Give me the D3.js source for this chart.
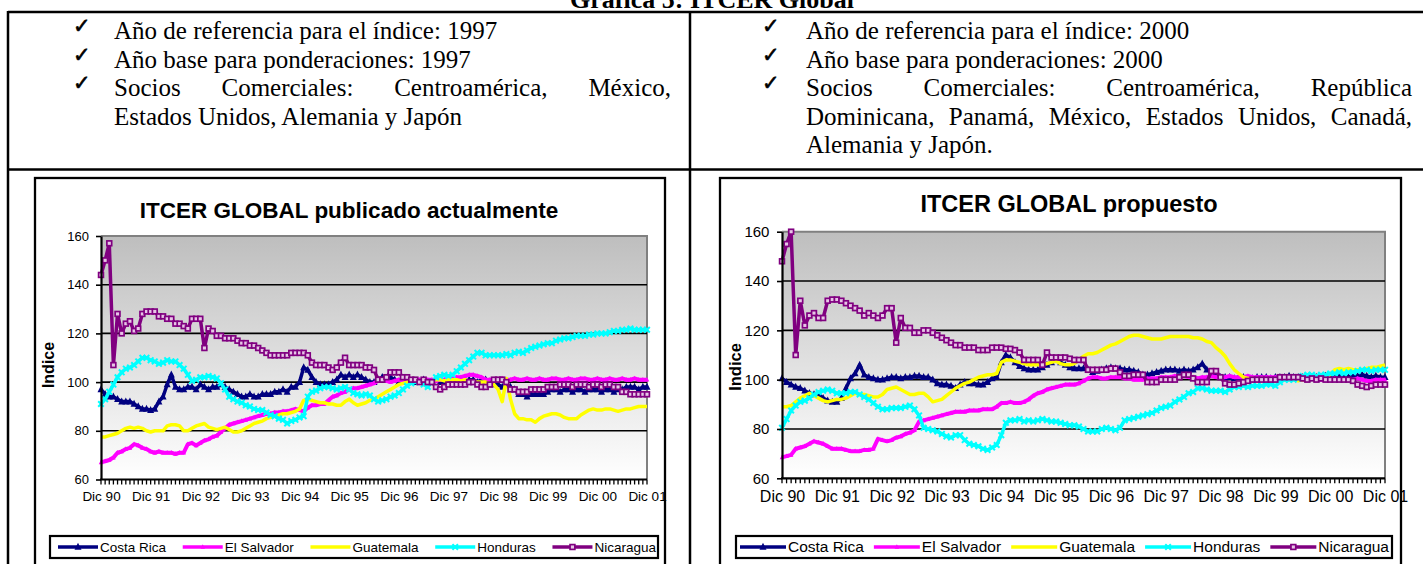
<!DOCTYPE html>
<html><head><meta charset="utf-8">
<script src="https://cdn.jsdelivr.net/npm/d3@7"></script>
<style>body{margin:0;background:#fff}svg{display:block}</style>
</head><body>
<svg id="c" width="1423" height="564"></svg>
<script>
// ---------------- DATA ----------------
const docTitle = "Gráfica 5: ITCER Global";
const leftNotes = ["Año de referencia para el índice: 1997", "Año base para ponderaciones: 1997",
  "Socios Comerciales: Centroamérica, México,", "Estados Unidos, Alemania y Japón"];
const rightNotes = ["Año de referencia para el índice: 2000", "Año base para ponderaciones: 2000",
  "Socios Comerciales: Centroamérica, República", "Dominicana, Panamá, México, Estados Unidos, Canadá,", "Alemania y Japón."];
const tickLabels = ["Dic 90","Dic 91","Dic 92","Dic 93","Dic 94","Dic 95","Dic 96","Dic 97","Dic 98","Dic 99","Dic 00","Dic 01"];
const monthNames = ["Dic","Ene","Feb","Mar","Abr","May","Jun","Jul","Ago","Sep","Oct","Nov"];
const categories = [];
for (let i = 0; i <= 132; i++) {
  const yr = i % 12 === 0 ? 90 + i / 12 : 91 + Math.floor(i / 12);
  categories.push(monthNames[i % 12] + " " + String(yr % 100).padStart(2, "0"));
}
const yTicks = [60, 80, 100, 120, 140, 160];
const seriesNames = ["Costa Rica", "El Salvador", "Guatemala", "Honduras", "Nicaragua"];

// ITCER global publicado actualmente
const pubCostaRica = [
97,95,94,94,93,92,92,92,91,90,89,89,
88.5,89,92,94,99,103,98,97,97,98,98,97,
99,98,97,98,98,99,98,97,96,95,94,94,
95,94,94,95,95,95,96,96,97,96,98,98,
100,106,105,102,100,99,99,99,100,101,103,102,
103,102,103,102,101,100,100,101,102,101,102,101,
100,100,101,100,100,100,101,100,100,101,100,100,
100,100,101,101,100,101,101,100,101,101,99,99,
99,98,99,98,97,95,95,94,95,95,95,95,
96,97,97,96,97,97,96,97,97,96,97,97,
97,96,97,97,96,97,97,98,98,98,97,98,
98];
const pubElSalvador = [
67,67.5,68,69,71,71.5,72.5,73,74.5,74,73,72.5,
71.5,71,71.5,71,71,71,70.5,71,71,74.5,75,74,
75,76,76.5,77.5,78,79.5,81,82.5,83,83.5,84,84.5,
85,85.5,86,86.5,87,87,87.5,87.5,88,88,88.5,89,
88.5,88,89.5,90.5,90.5,91,91,92.5,94,94.5,95.5,96,
97,97.5,97.5,98,98.5,99,99.5,100.5,101,100.5,100,100.5,
101,100.5,101,100.5,100.5,101,100.5,101,101,100.5,101,101,
101.5,101.5,102,102,102.5,103,103,102.5,102,101,101,100.5,
101,101.5,101,101,101.5,101,101,101.5,101,101,101.5,101,
101,101.5,101.5,101,101,101.5,101,101,101.5,101.5,101,101,
101.5,101,101,101.5,101,101,101.5,101,101,101.5,101,101,
101];
const pubGuatemala = [
77.5,77.5,78,78.5,79,80,81,81.5,81,81.5,81,80,
79.5,80,80,80,82,82.5,82.5,82,80,80,81,82,
82.5,83,81.5,81,80.5,81,81.5,80.5,79.5,79.5,80,81,
82,83,83.5,84,85,85.5,86,86.5,87,87,87.5,88,
89,92.5,93,92.5,92,91.5,91.5,91,91,90.5,90.5,92,
93,91.5,90.5,91,91.5,92.5,93,94,95,96,97,98,
99,99.5,100,100.5,100.5,100.5,101,100.5,100.5,101,101,100.5,
101,101,101,100.5,101,100.5,100.5,100,100,100,99.5,99,
97,92,101.5,93,87,85,85,84.5,84.5,83.5,85,86,
86.5,87,87,86.5,85.5,85,85,85,86.5,87.5,88.5,89,
88.5,88.5,89,89,88.5,88,88.5,89,89,89.5,90,90,
90];
const pubHonduras = [
91,93,96,99,102,104,105.5,106,107,108.5,110,110,
109,108.5,107.5,108,109,108.5,108.5,107,105.5,103,100.5,101,
102,102,102.5,102,101.5,99.5,97,94,93,92,91.5,90.5,
90,89,88.5,88.5,87.5,86.5,86,85,84.5,83,84,84.5,
85.5,86,94,96,96.5,97.5,98,98,97.5,97,97.5,98,
97,95.5,95,94.5,95,94.5,93,92,92.5,93,94,94.5,
95.5,97,98.5,99.5,100,100,99,98,100,102,102.5,103,
102.5,103,104.5,106,107.5,109,110.5,112,112,111,111,111,
111,111,111.5,111,112,112.5,112,113,114,114.5,115,115.5,
116,116,117,117.5,118,118,118.5,119,119,119,119.5,119.5,
120,120,120,120.5,121,121,121.5,121.5,122,121.5,121.5,121.5,
121.5];
const pubNicaragua = [
144,150,157,107,128,120,124,125,121,122,128,129,
129,129,127,127,126,126,124,124,123,122,126,126,
126,114,122,121,119,119,118,118,118,117,116,116,
115,115,114,113,112,111,111,111,111,111,112,112,
112,112,111,108,107,107,107,106,105,106,108,110,
107,107,107,107,106,106,105,101,101,102,104,104,
104,102,102,101,101,100,101,100,100,98,97,98,
99,99,99,99,99,100,100,99,98,98,99,101,
101,101,100,97,97,96,96,96,97,97,97,97,
98,98,98,99,99,99,98,99,99,99,98,99,
99,98,99,99,98,98,96,96,95,95,95,95,
95];

// ITCER global propuesto
const propCostaRica = [
100.5,99,98,97,96.5,95.5,94.5,94,94,92.5,91.5,91,
91,92.5,96.5,100.5,102.5,106,102,101,100.5,100,100,100.5,
101,101,100.5,101,101,101.5,101.5,101,101,100,98.5,98,
98,97.5,96.5,98,99,98.5,98.5,98,98,99,100.5,101,
107,110,109,107,105.5,104.5,104,104,104,105,106,107,
108,107,106,105,104.5,104.5,104.5,104,103,103.5,104,104.5,
105,104.5,104.5,104,104,103.5,103,102,102,102.5,103,103.5,
104,104,104,103.5,104,103.5,104,105,106.5,104,103,102,
101,101,101,100.5,101,101,100.5,100.5,101,101,101,100.5,
101,101,101,101.5,101,101,101,100.5,101,101,101,101.5,
101.5,101,101.5,101.5,101,101.5,101.5,102,101.5,101,101.5,101,
101];
const propElSalvador = [
68.5,69,69.5,72,72.5,73,74,75,74.5,74,73,72,
72,72,71.5,71,71,71,71.5,71.5,72,76,75.5,75,
75.5,76.5,77,78,78.5,79.5,83,83.5,84,84.5,85,85.5,
86,86.5,87,87,87,87.5,87.5,87.5,88,88,88,89,
90.5,90.5,91,90.5,90.5,91,92,93.5,94.5,95,96,96.5,
97,97.5,98,98,98,98.5,99.5,100.5,101,101,100.5,100.5,
101,101,101,100.5,100.5,100,100,100,100.5,100.5,100.5,101,
101,101,101.5,101,101.5,101,101,100.5,101,101,101.5,101,
101,101,101.5,101,101,101,101.5,101,101,101,101,101,
101,101,100.5,100.5,100.5,100,100,100,100.5,100,100,100,
100,100.5,100,100,100,100,100.5,100,99.5,99.5,100,100,
100];
const propGuatemala = [
89,89,89.5,91,92.5,93.5,94.5,93.5,92.5,91.5,91,91.5,
92,92,92.5,93.5,94.5,94,94,93.5,93,93,94,96,
96.5,97,96,95,94,94,94.5,94.5,93,91,91.5,92,
93.5,95,96.5,97.5,98.5,99,100,101,101.5,102,102,102.5,
107,108,108,107.5,107,106.5,106,106,106,106.5,106.5,107,
107.5,106.5,106,106,106.5,108,109.5,110.5,110.5,111,112,113,
114,114.5,115.5,116.5,117.5,118,118,117.5,117,116.5,116.5,116.5,
117,117.5,117.5,117.5,117.5,117.5,117,117,116.5,115.5,115,113,
111.5,109.5,106.5,104,102.5,101,100.5,100.5,100,100.5,100,100,
99.5,100,100,100,100,99.5,100,100,100.5,100.5,101,101,
102,104,104.5,104,104.5,104,104,104,104.5,105,105,105.5,
106];
const propHonduras = [
80.5,84,87.5,89.5,91,91.5,92.5,94,95,95.5,96,95.5,
94.5,94.5,94.5,95,95,94,93,92,90.5,89,88,88,
88.5,88.5,88.5,89,89.5,88,85.5,80.5,80,79.5,79,78,
77,76.5,77.5,77.5,75.5,74,73.5,73,72,71.5,72.5,73.5,
77.5,82.5,83.5,83.5,84,83,83.5,83,83.5,84,83.5,83,
83,82.5,82,81.5,81.5,81,80,79,79,79,80,80.5,
80,79.5,80.5,83.5,84,84.5,85,85.5,86,86.5,87.5,88.5,
89,89.5,91,92,93,94.5,95,96.5,96.5,96,95.5,95.5,
95.5,95,96,97,97,97.5,97,97.5,97.5,97.5,98,98,
97.5,99,100,100,100,100.5,101.5,102,102,101.5,102,102,
102.5,102.5,103,102.5,103,103,103.5,104,104,103.5,104,104,
104];
const propNicaragua = [
148,155,160,110,132,122,126,127,125,125,132,132.5,
132.5,132,131,130,129,128,126,127,126,125,126,129,
129,115,125,121,121,119,119,120,120,119,118,117,
116,115,114,114,113,113,113,112,112,112,113,113,
113,112.5,112.5,112,111,108,108,108,108,106,111,109,
109,109,109,108.5,108,108,108,104,104,104,104,104,
104.5,104.5,103,101.5,101.5,102,102,102,99,99,99,100,
100,100,100,101,102,102,100.5,99,99,99,103.5,103.5,
101,98.5,98,98,98.5,99,99.5,100,100,100,100,100,
100,101,101,101,101,101,100.5,100,100.5,100,100.5,100,
100,100,100,100,100,99.5,98,97.5,97,97.5,98,98,
98];

// ---------------- DRAWING ----------------
const SANS = "'Liberation Sans', Arial, sans-serif";
const SERIF = "'Liberation Serif', 'Times New Roman', serif";
const svg = d3.select("#c");
const defs = svg.append("defs");
const grad = defs.append("linearGradient").attr("id", "bg").attr("x1", 0).attr("y1", 0).attr("x2", 0).attr("y2", 1);
grad.append("stop").attr("offset", "0%").attr("stop-color", "#BEBEBE");
grad.append("stop").attr("offset", "100%").attr("stop-color", "#FFFFFF");

// document title (top partly cut, as in the source page)
svg.append("text").attr("x", 712).attr("y", 7.5).attr("text-anchor", "middle")
  .attr("font-family", SERIF).attr("font-weight", "bold").attr("font-size", 26).text(docTitle);

// table lines
const tbl = svg.append("g").attr("stroke", "#000").attr("fill", "none");
tbl.append("line").attr("x1", 8).attr("x2", 1423).attr("y1", 12).attr("y2", 12).attr("stroke-width", 2.5);
tbl.append("line").attr("x1", 8).attr("x2", 1423).attr("y1", 169.5).attr("y2", 169.5).attr("stroke-width", 2.5);
tbl.append("line").attr("x1", 8).attr("x2", 8).attr("y1", 11).attr("y2", 564).attr("stroke-width", 2.5);
tbl.append("line").attr("x1", 690).attr("x2", 690).attr("y1", 11).attr("y2", 564).attr("stroke-width", 2.5);

const BODY = 25;
const baselines = [39, 67.6, 96.2, 124.8, 153.4];
function check(x, y) {
  svg.append("text").attr("x", x).attr("y", y - 6).attr("font-family", "'DejaVu Sans', sans-serif")
    .attr("font-size", 21).attr("stroke", "#000").attr("stroke-width", 0.6).text("✓");
}
function plain(x, y, s) {
  svg.append("text").attr("x", x).attr("y", y).attr("font-family", SERIF).attr("font-size", BODY).text(s);
}
function justified(x0, x1, y, s) {
  const words = s.split(" ");
  const nodes = words.map(w => svg.append("text").attr("y", y).attr("font-family", SERIF).attr("font-size", BODY).text(w));
  const widths = nodes.map(n => n.node().getComputedTextLength());
  const gap = (x1 - x0 - d3.sum(widths)) / (words.length - 1);
  let cx = x0;
  nodes.forEach((n, i) => { n.attr("x", cx); cx += widths[i] + gap; });
}
// left column
check(73, baselines[0]); plain(114, baselines[0], leftNotes[0]);
check(73, baselines[1]); plain(114, baselines[1], leftNotes[1]);
check(73, baselines[2]); justified(114, 671, baselines[2], leftNotes[2]);
plain(114, baselines[3], leftNotes[3]);
// right column
check(762, baselines[0]); plain(806, baselines[0], rightNotes[0]);
check(762, baselines[1]); plain(806, baselines[1], rightNotes[1]);
check(762, baselines[2]); justified(806, 1412, baselines[2], rightNotes[2]);
justified(806, 1412, baselines[3], rightNotes[3]);
plain(806, baselines[4], rightNotes[4]);

const styles = [
  { color: "#000080", width: 3.5, marker: "tri", size: 7 },
  { color: "#FF00FF", width: 4, marker: "tri", size: 4.5 },
  { color: "#FFFF00", width: 3.5, marker: "none", size: 0 },
  { color: "#00FFFF", width: 3.5, marker: "x", size: 2.8 },
  { color: "#800080", width: 3.5, marker: "sq", size: 4.8 }
];

function marker(g, st, cx, cy) {
  if (st.marker === "tri") {
    const s = st.size;
    g.append("path").attr("d", `M${cx},${cy - s * 0.6}L${cx + s / 2},${cy + s * 0.4}L${cx - s / 2},${cy + s * 0.4}Z`).attr("fill", st.color);
  } else if (st.marker === "x") {
    const s = st.size;
    g.append("path").attr("d", `M${cx - s},${cy - s}L${cx + s},${cy + s}M${cx - s},${cy + s}L${cx + s},${cy - s}`)
      .attr("stroke", st.color).attr("stroke-width", 2).attr("fill", "none");
  } else if (st.marker === "sq") {
    const s = st.size;
    g.append("rect").attr("x", cx - s / 2).attr("y", cy - s / 2).attr("width", s).attr("height", s)
      .attr("fill", "#E6C6E6").attr("stroke", st.color).attr("stroke-width", 1.7);
  }
}

function drawChart(cfg, series) {
  const g = svg.append("g");
  g.append("rect").attr("x", cfg.fx).attr("y", cfg.fy).attr("width", cfg.fw).attr("height", cfg.fh)
    .attr("fill", "#fff").attr("stroke", "#000").attr("stroke-width", 2.3);
  const x = d3.scalePoint().domain(categories).range([cfg.px0, cfg.px1]);
  const y = d3.scaleLinear().domain([60, 160]).range([cfg.py1, cfg.py0]);

  g.append("rect").attr("x", cfg.px0).attr("y", y(160)).attr("width", cfg.px1 - cfg.px0)
    .attr("height", y(60) - y(160)).attr("fill", "url(#bg)");
  g.append("path").attr("d", `M${cfg.px0},${y(160)}H${cfg.px1}V${y(60)}`)
    .attr("stroke", "#808080").attr("stroke-width", 2).attr("fill", "none");
  yTicks.filter(v => v > 60 && v < 160).forEach(v => {
    g.append("line").attr("x1", cfg.px0).attr("x2", cfg.px1).attr("y1", y(v)).attr("y2", y(v))
      .attr("stroke", "#000").attr("stroke-width", 1.6);
  });
  const tg = g.append("g").attr("stroke", "#000").attr("stroke-width", 1.3);
  categories.forEach(c => {
    tg.append("line").attr("x1", x(c)).attr("x2", x(c)).attr("y1", y(60)).attr("y2", y(60) + 5);
  });

  series.forEach((vals, si) => {
    const st = styles[si];
    const sg = g.append("g");
    const line = d3.line().x((d, i) => x(categories[i])).y(d => y(d));
    sg.append("path").datum(vals).attr("d", line).attr("fill", "none")
      .attr("stroke", st.color).attr("stroke-width", st.width).attr("stroke-linejoin", "round");
    vals.forEach((v, i) => marker(sg, st, x(categories[i]), y(v)));
  });

  const ya = g.append("g").attr("transform", `translate(${cfg.px0},0)`)
    .call(d3.axisLeft(y).tickValues(yTicks).tickSize(5).tickSizeOuter(0).tickPadding(cfg.yPad));
  ya.select(".domain").attr("stroke", "#000").attr("stroke-width", 2.2);
  ya.selectAll(".tick line").attr("stroke", "#000").attr("stroke-width", 1.6);
  ya.selectAll("text").attr("font-family", SANS).attr("font-size", cfg.yTickSize).attr("fill", "#000");

  g.append("line").attr("x1", cfg.px0 - 1).attr("x2", cfg.px1).attr("y1", y(60)).attr("y2", y(60))
    .attr("stroke", "#000").attr("stroke-width", 2.2);
  const xa = g.append("g").attr("transform", `translate(0,${y(60)})`)
    .call(d3.axisBottom(x).tickValues(categories.filter((c, i) => i % 12 === 0))
      .tickFormat((c, i) => tickLabels[i]).tickSize(0).tickPadding(cfg.xPad));
  xa.select(".domain").remove();
  xa.selectAll("text").attr("font-family", SANS).attr("font-size", cfg.xTickSize).attr("fill", "#000");

  g.append("text").attr("x", cfg.titleX).attr("y", cfg.titleY).attr("text-anchor", "middle")
    .attr("font-family", SANS).attr("font-weight", "bold").attr("font-size", cfg.titleSize).text(cfg.title);
  g.append("text").attr("transform", `translate(${cfg.yLabelX},${cfg.yLabelY}) rotate(-90)`)
    .attr("text-anchor", "middle").attr("font-family", SANS).attr("font-weight", "bold")
    .attr("font-size", cfg.yLabelSize).text("Indice");

  const L = cfg.legend;
  const lg = g.append("g");
  lg.append("rect").attr("x", L.x).attr("y", L.y).attr("width", L.w).attr("height", L.h)
    .attr("fill", "#fff").attr("stroke", "#000").attr("stroke-width", 2.2);
  const my = L.y + L.h / 2;
  const texts = seriesNames.map(n => lg.append("text").attr("y", my + L.font * 0.35)
    .attr("font-family", SANS).attr("font-size", L.font).text(n));
  const tw = texts.map(t => t.node().getComputedTextLength());
  const total = d3.sum(tw) + seriesNames.length * (L.lineLen + 2);
  const gap = (L.w - L.padL - L.padR - total) / (seriesNames.length - 1);
  let ax = L.x + L.padL;
  seriesNames.forEach((n, i) => {
    const st = styles[i];
    lg.append("line").attr("x1", ax).attr("x2", ax + L.lineLen).attr("y1", my).attr("y2", my)
      .attr("stroke", st.color).attr("stroke-width", 3.5);
    marker(lg, st, ax + L.lineLen / 2, my);
    texts[i].attr("x", ax + L.lineLen + 2);
    ax += L.lineLen + 2 + tw[i] + gap;
  });
}

drawChart({
  fx: 35, fy: 178, fw: 630, fh: 420, px0: 101, px1: 647, py0: 236, py1: 479.5,
  title: "ITCER GLOBAL publicado actualmente", titleSize: 22.5, titleX: 349, titleY: 218,
  yLabelX: 54, yLabelY: 365, yLabelSize: 16, yTickSize: 13, xTickSize: 13.5, yPad: 7, xPad: 11.5,
  legend: { x: 50, y: 536, w: 608, h: 22, font: 13.5, lineLen: 40, padL: 8, padR: 2 }
}, [pubCostaRica, pubElSalvador, pubGuatemala, pubHonduras, pubNicaragua]);

drawChart({
  fx: 720, fy: 178, fw: 681, fh: 420, px0: 782, px1: 1385, py0: 231.7, py1: 478.3,
  title: "ITCER GLOBAL propuesto", titleSize: 23.5, titleX: 1069, titleY: 212,
  yLabelX: 741, yLabelY: 367, yLabelSize: 16.5, yTickSize: 15, xTickSize: 16, yPad: 7.6, xPad: 12.8,
  legend: { x: 736, y: 536, w: 656, h: 22, font: 15.5, lineLen: 46, padL: 4, padR: 3 }
}, [propCostaRica, propElSalvador, propGuatemala, propHonduras, propNicaragua]);
</script>
</body></html>
